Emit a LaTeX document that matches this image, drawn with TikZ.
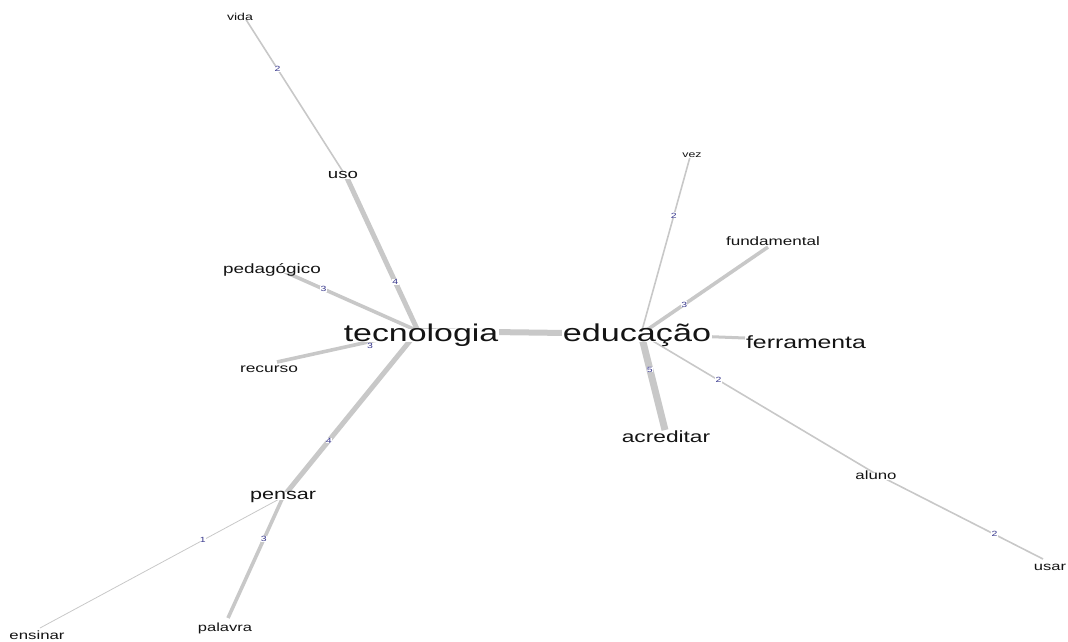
\documentclass[tikz,border=0pt]{standalone}
\usepackage{fontspec}
\setmainfont[FakeStretch=1.4]{Liberation Sans}
\definecolor{edgegray}{RGB}{200,200,200}
\definecolor{labblue}{RGB}{55,55,140}
\begin{document}
\begin{tikzpicture}[x=1pt,y=-1pt,
  % #1 = font size, #2 = x-height of that size (node centre sits mid x-height)
  word/.style 2 args={font=\fontsize{#1}{#1}\selectfont, text=black!92,
    fill=white, inner xsep=1pt, inner ysep=0pt, text height=#2pt, text depth=0pt,
    yshift=-2.5pt},
  elab/.style={font=\fontsize{7.5}{7.5}\selectfont, text=labblue,
    fill=white, inner sep=0.3pt},
  lk/.style={draw=edgegray, line width=#1, line cap=butt},
]
\clip (0,0) rectangle (1068,641);

% vertex positions
\coordinate (vida) at (245,18);
\coordinate (uso)  at (347,178);
\coordinate (tec)  at (418,331);
\coordinate (ped)  at (285,272);
\coordinate (rec)  at (277,362);
\coordinate (pen)  at (283,497);
\coordinate (ens)  at (40,628);
\coordinate (pal)  at (228,618);
\coordinate (edu)  at (641,334);
\coordinate (vez)  at (690,157);
\coordinate (fun)  at (768,247);
\coordinate (fer)  at (745,338);
\coordinate (acr)  at (665,430);
\coordinate (alu)  at (876,474);
\coordinate (usa)  at (1043,559);

% links, weighted
\draw[lk=1.6] (vida) -- node[elab,pos=.32]{2} (uso);
\draw[lk=5]   (uso)  -- node[elab,pos=.68]{4} (tec);
\draw[lk=3.6] (ped)  -- node[elab,pos=.29]{3} (tec);
\draw[lk=3.6] (rec)  -- node[elab,pos=.66,yshift=-4pt]{3} (tec);
\draw[lk=5]   (tec)  -- node[elab,pos=.66]{4} (pen);
\draw[lk=0.8] (pen)  -- node[elab,pos=.33]{1} (ens);
\draw[lk=3.6] (pen)  -- node[elab,pos=.35]{3} (pal);
\draw[lk=6]   (tec)  -- (edu);
\draw[lk=1.6] (edu)  -- node[elab,pos=.67]{2} (vez);
\draw[lk=3.6] (edu)  -- node[elab,pos=.34]{3} (fun);
\draw[lk=3]   (edu)  -- node[elab,pos=.51]{3} (fer);
\draw[lk=7]   (edu)  -- node[elab,pos=.37]{5} (acr);
\draw[lk=1.6] (edu)  -- node[elab,pos=.33]{2} (alu);
\draw[lk=1.6] (alu)  -- node[elab,pos=.71]{2} (usa);

% word labels
\node[word={10.1}{5.2}]  (vidaL) at (240,15)  {vida};
\node[word={13.3}{6.9}]  (usoL)  at (343,173) {uso};
\node[word={24.2}{12.6}] (tecL)  at (421,333) {tecnologia};
\node[word={13.5}{7.0}]  (pedL)  at (272,267) {pedagógico};
\node[word={12.4}{6.4}]  (recL)  at (269,367) {recurso};
\node[word={15.4}{8.0}]  (penL)  at (283,493) {pensar};
\node[word={12.0}{6.2}]  (ensL)  at (37,634)  {ensinar};
\node[word={11.8}{6.1}]  (palL)  at (225,626) {palavra};
\node[word={24.4}{12.7}] (eduL)  at (637,333) {educação};
\node[word={8.8}{4.6}]   (vezL)  at (692,153) {vez};
\node[word={12.2}{6.3}]  (funL)  at (773,240) {fundamental};
\node[word={17.7}{9.2}]  (ferL)  at (806,341) {ferramenta};
\node[word={16.2}{8.4}]  (acrL)  at (666,436) {acreditar};
\node[word={12.0}{6.2}]  (aluL)  at (876,474) {aluno};
\node[word={11.8}{6.1}]  (usaL)  at (1050,565) {usar};
\end{tikzpicture}
\end{document}
